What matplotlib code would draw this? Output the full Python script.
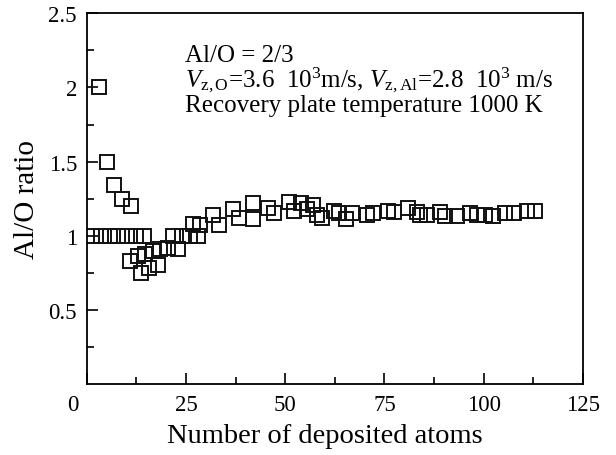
import matplotlib
matplotlib.use('Agg')
import matplotlib.pyplot as plt
import matplotlib.transforms as mtransforms
import numpy as np

# Fonts: Times-like serif for everything, incl. mathtext
plt.rcParams['font.family'] = ['Liberation Serif', 'DejaVu Serif']
plt.rcParams['mathtext.fontset'] = 'custom'
plt.rcParams['mathtext.rm'] = 'Liberation Serif'
plt.rcParams['mathtext.it'] = 'Liberation Serif:italic'

# Data
atoms_flat = [1.4, 3.6, 5.8, 7.9, 10.1, 12.3, 14.4]
ratio_flat = [1.0, 1.0, 1.0, 1.0, 1.0, 1.0, 1.0]

atoms_drop = [3.2, 5.0, 7.0, 9.0, 11.1]
ratio_drop = [2.0, 1.5, 1.34, 1.25, 1.2]

atoms_mix = [10.9, 13.0, 13.7, 14.7, 15.8, 16.6, 18.0, 18.5, 20.6, 21.8,
             23.1, 23.9, 26.0, 26.9, 28.1, 28.5, 31.9, 33.2, 36.9, 38.4,
             42.0, 42.0, 45.7, 47.2, 51.0, 52.3, 53.9, 55.4, 57.1, 57.9,
             59.2, 62.3, 63.6, 65.3, 66.9, 70.7, 72.2, 76.0, 77.4, 80.8,
             83.1, 84.0, 85.6, 89.0, 90.3, 93.2, 96.5, 98.2, 100.3, 102.4,
             105.4, 107.5, 110.8, 112.9]
ratio_mix = [0.83, 0.86, 0.75, 0.88, 0.78, 0.90, 0.80, 0.91, 0.92, 1.00,
             0.91, 1.00, 1.00, 1.08, 1.00, 1.07, 1.14, 1.07, 1.18, 1.12,
             1.22, 1.11, 1.19, 1.15, 1.23, 1.17, 1.22, 1.18, 1.21, 1.14,
             1.12, 1.17, 1.15, 1.11, 1.15, 1.14, 1.15, 1.17, 1.16, 1.19,
             1.16, 1.14, 1.14, 1.16, 1.13, 1.13, 1.15, 1.14, 1.14, 1.13,
             1.15, 1.15, 1.17, 1.17]

xticks = [0, 25, 50, 75, 100, 125]
yticks = [0.5, 1, 1.5, 2, 2.5]

fig = plt.figure(figsize=(6.16, 4.56), dpi=100)
ax = fig.add_axes([0.1407, 0.1557, 0.8058, 0.8129])

for xs, ys in [(atoms_flat, ratio_flat), (atoms_drop, ratio_drop),
               (atoms_mix, ratio_mix)]:
    ax.plot(xs, ys, linestyle='none', marker='s', markersize=9.4,
            markerfacecolor='none', markeredgecolor='#111111',
            markeredgewidth=1.4)

ax.set_xlim(0, 125)
ax.set_ylim(0, 2.5)
ax.set_xticks(xticks)
ax.set_xticks(np.arange(12.5, 125, 25), minor=True)
ax.set_yticks(yticks)
ax.set_yticklabels(['0.5', '1', '1.5', '2', '2.5'])
ax.set_yticks(np.arange(0.25, 2.5, 0.5), minor=True)
ax.tick_params(which='both', direction='in', top=False, right=False,
               labelsize=16.5, width=1.2, pad=7)
ax.tick_params(which='major', length=8)
ax.tick_params(which='minor', length=5)
for sp in ax.spines.values():
    sp.set_linewidth(1.3)

# Origin-style "0" sits left of the corner
lab0 = ax.get_xticklabels()[0]
lab0.set_transform(lab0.get_transform() +
                   mtransforms.ScaledTranslation(-14 / 100, 0, fig.dpi_scale_trans))

ax.set_xlabel('Number of deposited atoms', fontsize=20.5)
ax.xaxis.set_label_coords(0.48, -0.105)
ax.set_ylabel('Al/O ratio', fontsize=21, labelpad=6)

tx = 0.198
ax.text(tx, 0.872, 'Al/O = 2/3', transform=ax.transAxes, fontsize=18,
        va='baseline', ha='left')
ax.text(tx, 0.805,
        r'$V_{\rm z,O}$=3.6  10$^{3}$m/s, $V_{\rm z,Al}$=2.8  10$^{3}$ m/s',
        transform=ax.transAxes, fontsize=18, va='baseline', ha='left')
ax.text(tx, 0.737, 'Recovery plate temperature 1000 K', transform=ax.transAxes,
        fontsize=18, va='baseline', ha='left')

fig.savefig('out.png', dpi=100)
